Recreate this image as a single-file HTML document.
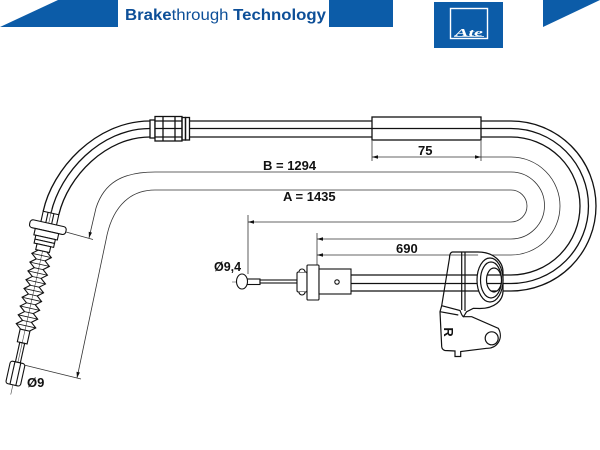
<!DOCTYPE html>
<html><head><meta charset="utf-8"><style>
html,body{margin:0;padding:0;background:#fff;width:600px;height:450px;overflow:hidden}
svg{display:block}
</style></head><body>
<svg width="600" height="450" viewBox="0 0 600 450" xmlns="http://www.w3.org/2000/svg">
<defs>
<clipPath id="hole"><ellipse cx="494" cy="280" rx="7.5" ry="12"/></clipPath>
</defs>
<!-- header -->
<polygon points="0,27 58,0 118,0 118,27" fill="#0c5ca8"/>
<text x="125" y="20" font-family="Liberation Sans, sans-serif" font-size="16" fill="#0d4f98" textLength="201" lengthAdjust="spacingAndGlyphs"><tspan font-weight="bold">Brake</tspan>through<tspan font-weight="bold"> Technology</tspan></text>
<rect x="329" y="0" width="64" height="27" fill="#0c5ca8"/>
<rect x="434" y="2" width="69" height="46" fill="#0c5ca8"/>
<rect x="450.5" y="8.5" width="37" height="30" fill="none" stroke="#fff" stroke-width="1.4"/>
<text x="455" y="36" font-family="Liberation Serif, serif" font-style="italic" font-weight="bold" font-size="11" fill="#fff" textLength="28" lengthAdjust="spacingAndGlyphs">Ate</text>
<line x1="454" y1="36.5" x2="484" y2="36.5" stroke="#fff" stroke-width="0.8"/>
<polygon points="543,0 600,0 543,27" fill="#0c5ca8"/>

<g fill="none" stroke="#111" stroke-width="1.3">
<!-- top cable straight -->
<line x1="189" y1="121" x2="372" y2="121"/>
<line x1="189" y1="128.5" x2="372" y2="128.5"/>
<line x1="189" y1="137" x2="372" y2="137"/>
<line x1="481" y1="121" x2="511" y2="121"/>
<line x1="481" y1="128.5" x2="511" y2="128.5"/>
<line x1="481" y1="137" x2="511" y2="137"/>
<!-- right loop -->
<path d="M511,121 A85,85 0 0 1 511,291"/>
<path d="M511,128.5 A77.5,77.5 0 0 1 511,283.5"/>
<path d="M511,137 A69,69 0 0 1 511,275"/>
<!-- bottom cable / wire -->
<line x1="351" y1="275" x2="511" y2="275"/>
<line x1="351" y1="283.5" x2="511" y2="283.5"/>
<line x1="351" y1="291" x2="511" y2="291"/>
<!-- sleeve -->
<rect x="372" y="117" width="109" height="23" fill="#fff"/>
<line x1="372" y1="128.5" x2="481" y2="128.5"/>
<!-- top-left fitting -->
<rect x="150" y="120" width="5" height="18"/>
<rect x="155" y="116.5" width="27" height="24.5" fill="#fff"/>
<line x1="163" y1="116.5" x2="163" y2="141"/>
<line x1="175" y1="116.5" x2="175" y2="141"/>
<line x1="155" y1="121" x2="182" y2="121"/>
<line x1="155" y1="137" x2="182" y2="137"/>
<line x1="155" y1="128.5" x2="182" y2="128.5"/>
<rect x="182" y="117.5" width="3.5" height="22.5"/>
<rect x="185.5" y="117.5" width="4" height="22.5"/>
<!-- left curve -->
<path d="M150,121 C95,121 52,170 43.2,211.3"/>
<path d="M150,128.5 C100,128.5 60,173 51,213"/>
<path d="M150,137 C106,137 68,176 58.8,214.7"/>
</g>

<!-- left assembly (rotated) -->
<g transform="translate(51,213) rotate(12.5)" fill="none" stroke="#111" stroke-width="1.1">
<line x1="0" y1="-4" x2="0" y2="186" stroke-width="0.6" stroke="#444"/>
<rect x="-8" y="0" width="16" height="11"/>
<line x1="-3" y1="0" x2="-3" y2="11"/>
<line x1="3" y1="0" x2="3" y2="11"/>
<rect x="-18.5" y="10.5" width="37" height="8" rx="3" fill="#fff"/>
<rect x="-12" y="18.5" width="24" height="6.5" fill="#fff"/>
<rect x="-10" y="25" width="20" height="4" fill="#fff"/>
<rect x="-10" y="29" width="20" height="4" fill="#fff"/>
<rect x="-7" y="33" width="14" height="6" fill="#fff"/>
<polyline points="4.5,39 10,43.5 4.5,48 10,52.5 4.5,57 10,61.5 4.5,66 10,70.5 4.5,75 10,79.5 4.5,84 10,88.5 4.5,93 10,97.5 4.5,102 10,106.5 4.5,111 10,115.5 4.5,120"/>
<polyline points="-4.5,39 -10,43.5 -4.5,48 -10,52.5 -4.5,57 -10,61.5 -4.5,66 -10,70.5 -4.5,75 -10,79.5 -4.5,84 -10,88.5 -4.5,93 -10,97.5 -4.5,102 -10,106.5 -4.5,111 -10,115.5 -4.5,120"/>
<g stroke-width="0.8">
<line x1="-10" y1="43.5" x2="10" y2="43.5"/><line x1="-10" y1="52.5" x2="10" y2="52.5"/>
<line x1="-10" y1="61.5" x2="10" y2="61.5"/><line x1="-10" y1="70.5" x2="10" y2="70.5"/>
<line x1="-10" y1="79.5" x2="10" y2="79.5"/><line x1="-10" y1="88.5" x2="10" y2="88.5"/>
<line x1="-10" y1="97.5" x2="10" y2="97.5"/><line x1="-10" y1="106.5" x2="10" y2="106.5"/>
<line x1="-10" y1="115.5" x2="10" y2="115.5"/>
<line x1="-4.5" y1="48" x2="4.5" y2="48"/><line x1="-4.5" y1="57" x2="4.5" y2="57"/>
<line x1="-4.5" y1="66" x2="4.5" y2="66"/><line x1="-4.5" y1="75" x2="4.5" y2="75"/>
<line x1="-4.5" y1="84" x2="4.5" y2="84"/><line x1="-4.5" y1="93" x2="4.5" y2="93"/>
<line x1="-4.5" y1="102" x2="4.5" y2="102"/><line x1="-4.5" y1="111" x2="4.5" y2="111"/>
</g>
<rect x="-5" y="120" width="10" height="13"/>
<rect x="-2.5" y="133" width="5" height="20"/>
<rect x="-7.5" y="153" width="15" height="23" rx="2.5" fill="#fff"/>
<line x1="-3" y1="153" x2="-3" y2="176"/>
<line x1="3" y1="153" x2="3" y2="176"/>
</g>

<!-- dimension lines -->
<g fill="none" stroke="#333" stroke-width="0.8">
<path d="M89,238 L96,208 C104,183 122,172 155,172 L511,172 A33.5,33.5 0 0 1 511,239 L317,239"/>
<path d="M77,378 L106,240 C111,212 126,190 155,190 L511,190 A16,16 0 0 1 511,222 L248,222"/>
<path d="M317,255 L511,255 A49,49 0 0 0 511,157 L372,157"/>
<line x1="372" y1="141" x2="372" y2="161"/>
<line x1="481" y1="141" x2="481" y2="161"/>
<line x1="317" y1="233" x2="317" y2="265"/>
<line x1="248" y1="215" x2="248" y2="274"/>
<line x1="66" y1="232" x2="93" y2="239.5"/>
<line x1="24" y1="365" x2="81" y2="379"/>
<line x1="232" y1="282" x2="300" y2="282" stroke-width="0.6"/>
</g>
<g fill="#111">
<polygon points="372,157 378,155.3 378,158.7"/>
<polygon points="481,157 475,155.3 475,158.7"/>
<polygon points="317,239 323,237.3 323,240.7"/>
<polygon points="317,255 323,253.3 323,256.7"/>
<polygon points="248,222 254,220.3 254,223.7"/>
<polygon points="89,238 92,232.6 88.7,231.8"/>
<polygon points="77,378 79.9,372.5 76.5,371.7"/>
</g>

<!-- pull rod end -->
<g fill="#fff" stroke="#111" stroke-width="1.1">
<rect x="246" y="279" width="14" height="5.5"/>
<rect x="260" y="280" width="37" height="3"/>
<ellipse cx="242" cy="281.5" rx="5.5" ry="7.5"/>
<rect x="297" y="272" width="10" height="20" rx="1.5"/>
<path d="M299,272 a3,3 0 0 1 6,0"/>
<path d="M299,292 a3,3 0 0 0 6,0"/>
<rect x="307" y="265" width="12" height="35" rx="1"/>
<rect x="319" y="269" width="32" height="25"/>
<circle cx="337" cy="282" r="2.2"/>
</g>

<!-- bracket -->
<g fill="none" stroke="#111" stroke-width="1.2">
<path d="M478,252 L452.5,252 C450,252.5 449.5,255 449.5,258 L441.7,305.7 L460,310.5 C461,313 462,316 463.3,316.7 C465,315 465.5,313 466.7,311.7 L473.3,308.3 L480,308.5"/>
<path d="M478,252 C494,252 503,262 503,272 L503,291 C503,301 494,308.5 480,308.5" fill="#fff"/>
<line x1="461.7" y1="252" x2="461.7" y2="310"/>
<line x1="465" y1="252" x2="465" y2="311"/>
<path d="M441.7,305.7 L440,311.7 L441.7,346.7 C442,349 443,350 445,350.5 L455,351 L455,356.5 L460.7,356.5 L460.7,351.5 L486.7,348.3 C497,349 504,338 498.3,328.3 L471.7,316.7 L463.3,316.7"/>
<line x1="440" y1="311.7" x2="458.3" y2="315"/>
<circle cx="491.7" cy="338.3" r="6.5"/>
<ellipse cx="490" cy="280" rx="13" ry="22" fill="#fff"/>
<ellipse cx="491" cy="280" rx="10.5" ry="18"/>
<ellipse cx="494" cy="280" rx="7.5" ry="12" fill="#fff"/>
<g clip-path="url(#hole)">
<line x1="480" y1="275" x2="505" y2="275"/>
<line x1="480" y1="283.5" x2="505" y2="283.5"/>
<line x1="480" y1="291" x2="505" y2="291"/>
</g>
</g>
<text x="0" y="0" transform="translate(444,332) rotate(90)" text-anchor="middle" font-family="Liberation Sans, sans-serif" font-weight="bold" font-size="13" fill="#111">R</text>

<!-- labels -->
<g font-family="Liberation Sans, sans-serif" font-weight="bold" font-size="13" fill="#111">
<text x="263" y="170">B = 1294</text>
<text x="283" y="201">A = 1435</text>
<text x="418" y="155">75</text>
<text x="396" y="253">690</text>
<text x="214" y="271" font-size="12.5">Ø9,4</text>
<text x="27" y="387">Ø9</text>
</g>
</svg>
</body></html>
